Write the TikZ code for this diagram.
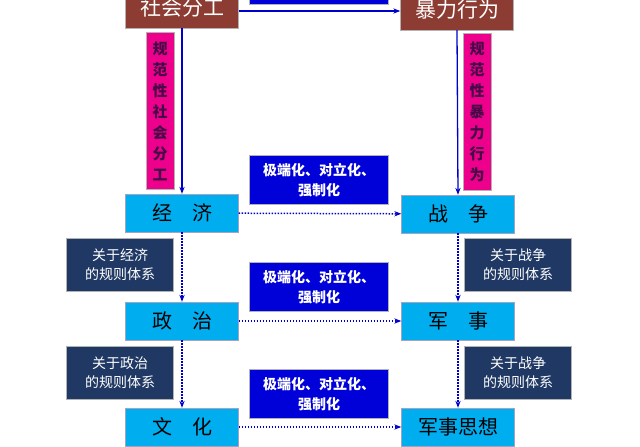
\documentclass[tikz,border=0pt]{standalone}
\usepackage{fontspec}
\setmainfont{Noto Sans CJK SC}
\usetikzlibrary{arrows.meta}
\definecolor{brownred}{RGB}{140,60,50}
\definecolor{navy}{RGB}{32,56,100}
\definecolor{darkplum}{RGB}{70,10,70}
\tikzset{
  topbox/.style={draw=gray!60, fill=brownred, text=white, font=\fontsize{21}{21}\selectfont,
    minimum width=113pt, minimum height=40pt, inner sep=0pt},
  mainbox/.style={draw=blue!20!gray!60, fill=cyan, font=\fontsize{20}{20}\selectfont,
    minimum width=113pt, minimum height=38pt, inner sep=0pt},
  rulebox/.style={draw=gray!60, fill=navy, text=white, font=\fontsize{14}{19}\selectfont,
    minimum width=107pt, minimum height=53pt, align=center, inner sep=0pt},
  polbox/.style={draw=gray!60, fill=blue!85!black, text=white, font=\fontsize{14}{20}\selectfont\bfseries,
    minimum width=139pt, minimum height=49pt, align=center, inner sep=0pt},
  normbox/.style={draw=gray!60, fill=magenta, font=\fontsize{15}{21}\selectfont\bfseries,
    minimum width=28pt, minimum height=157pt, align=center, inner sep=0pt, text=darkplum},
  solidarrow/.style={-{Stealth[length=7pt]}, blue!80!black, line width=1.3pt},
  dotarrow/.style={-{Stealth[length=7pt]}, blue!80!black, line width=1.5pt, dash pattern=on 1.5pt off 1.5pt}
}
\begin{document}
\begin{tikzpicture}[x=1pt,y=-1pt]
\useasboundingbox (0,0) rectangle (640,447);
\fill[white] (0,0) rectangle (640,447);

% top row
\node[polbox, minimum height=28pt] (topmid) at (319,-10) {};
\node[topbox] (fen) at (182,8) {社会分工};
\node[topbox] (bao) at (457,10) {暴力行为};
\draw[solidarrow] (fen.east |- 0,11) -- (bao.west |- 0,11);

\node[normbox] (normL) at (160,111) {规\\范\\性\\社\\会\\分\\工};
\node[normbox] (normR) at (477,112) {规\\范\\性\\暴\\力\\行\\为};

% main boxes
\node[mainbox] (jj) at (182,213) {经\quad 济};
\node[mainbox] (zz) at (458,214) {战\quad 争};
\node[mainbox] (zhi) at (182,321) {政\quad 治};
\node[mainbox] (js) at (458,321) {军\quad 事};
\node[mainbox] (wh) at (182,427) {文\quad 化};
\node[mainbox] (jssx) at (458,427) {军事思想};

\draw[solidarrow] (fen.south) -- (jj.north);
\draw[solidarrow] (bao.south) -- (zz.north);

% labels on the dotted links
\node[polbox] (p1) at (319,180) {极端化、对立化、\\强制化};
\node[polbox] (p2) at (319,287) {极端化、对立化、\\强制化};
\node[polbox] (p3) at (319,394) {极端化、对立化、\\强制化};

\node[rulebox] (r1) at (120,265) {关于经济\\的规则体系};
\node[rulebox] (r2) at (518,265) {关于战争\\的规则体系};
\node[rulebox] (r3) at (120,373) {关于政治\\的规则体系};
\node[rulebox] (r4) at (518,373) {关于战争\\的规则体系};

\draw[dotarrow] (jj) -- (zz);
\draw[dotarrow] (zhi) -- (js);
\draw[dotarrow] (wh) -- (jssx);
\draw[dotarrow] (jj) -- (zhi);
\draw[dotarrow] (zhi) -- (wh);
\draw[dotarrow] (zz) -- (js);
\draw[dotarrow] (js) -- (jssx);
\end{tikzpicture}
\end{document}
